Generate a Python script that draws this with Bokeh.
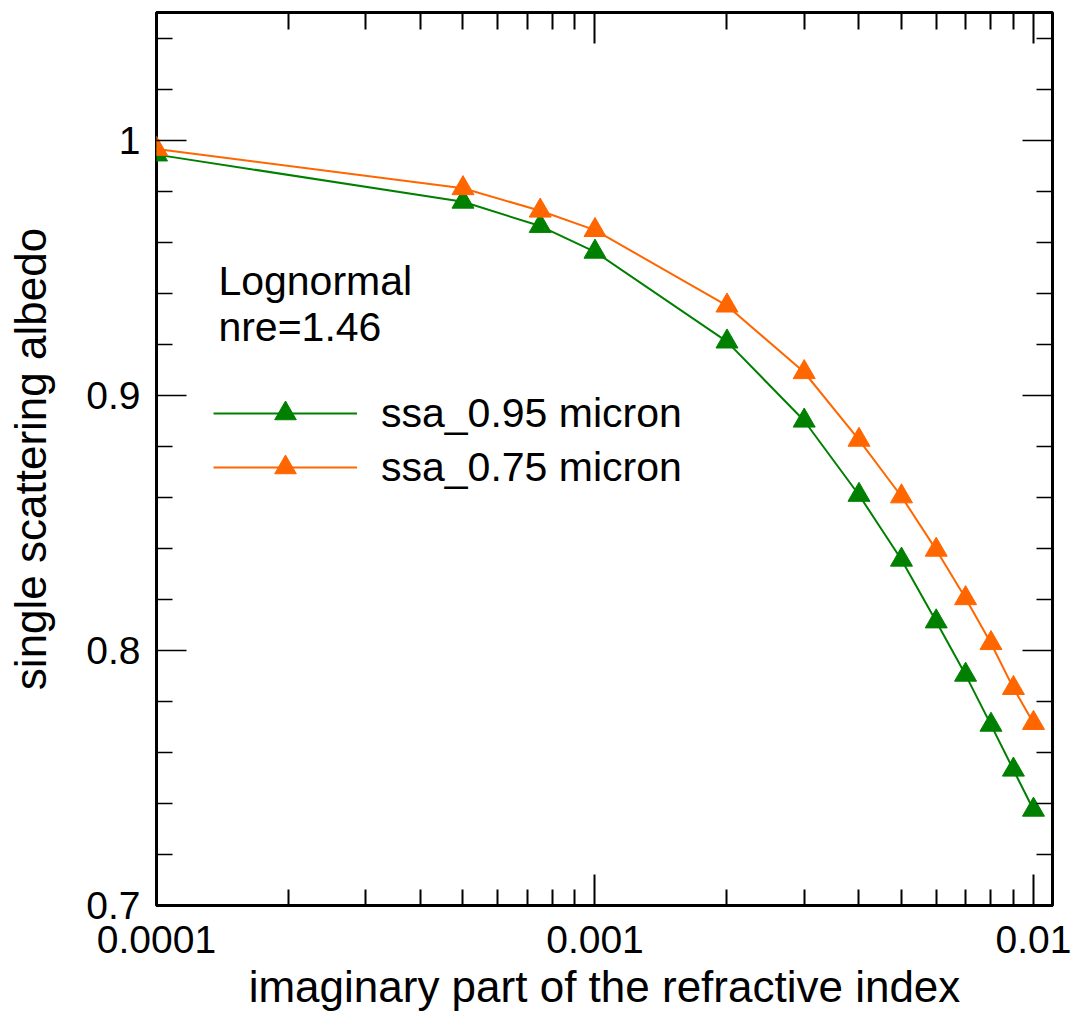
from bokeh.plotting import figure
from bokeh.models import (Range1d, FixedTicker, LogAxis, LinearAxis, CustomJSTickFormatter,
                          Legend, LegendItem, Label)
from bokeh.embed import file_html
from bokeh.resources import INLINE

# ---- data ----
k_imag = [0.0001, 0.0005, 0.00075, 0.001, 0.002, 0.003, 0.004, 0.005, 0.006, 0.007, 0.008, 0.009, 0.01]
ssa_095 = [0.9943, 0.9758, 0.9663, 0.9562, 0.9210, 0.8900, 0.8609, 0.8355, 0.8113, 0.7904, 0.7708, 0.7532, 0.7375]
ssa_075 = [0.9965, 0.9811, 0.9723, 0.9647, 0.9351, 0.9090, 0.8825, 0.8603, 0.8394, 0.8204, 0.8028, 0.7852, 0.7715]
series_names = ["ssa_0.95 micron", "ssa_0.75 micron"]
x_major = [0.0001, 0.001, 0.01]
x_minor = [0.0002, 0.0003, 0.0004, 0.0005, 0.0006, 0.0007, 0.0008, 0.0009,
           0.002, 0.003, 0.004, 0.005, 0.006, 0.007, 0.008, 0.009]
y_major = [0.7, 0.8, 0.9, 1.0]
y_minor = [0.72, 0.74, 0.76, 0.78, 0.82, 0.84, 0.86, 0.88, 0.92, 0.94, 0.96, 0.98, 1.02, 1.04]
note_lines = ["Lognormal", "nre=1.46"]

FONT = "Liberation Sans"
GREEN = "#008000"
ORANGE = "#FF6600"

p = figure(width=1072, height=1018, x_axis_type="log",
           x_range=Range1d(0.0001, 0.01105), y_range=Range1d(0.7, 1.05),
           output_backend="svg", toolbar_location=None,
           min_border_left=156, min_border_right=20, min_border_top=12, min_border_bottom=113)
p.grid.visible = False
p.background_fill_color = "white"
p.border_fill_color = "white"
p.outline_line_color = "black"
p.outline_line_width = 3
p.outline_line_alpha = 1.0

xt = FixedTicker(ticks=x_major, minor_ticks=x_minor)
yt = FixedTicker(ticks=y_major, minor_ticks=y_minor)
fmt = CustomJSTickFormatter(code="return tick.toString()")
blank = CustomJSTickFormatter(code="return ''")


def style(ax, ticker, formatter, tw, major_in, minor_in, labels=True):
    ax.ticker = ticker
    ax.formatter = formatter
    ax.axis_line_color = None
    ax.major_tick_in = major_in
    ax.major_tick_out = 0
    ax.minor_tick_in = minor_in
    ax.minor_tick_out = 0
    ax.major_tick_line_color = "black"
    ax.minor_tick_line_color = "black"
    ax.major_tick_line_width = tw
    ax.minor_tick_line_width = tw
    if labels:
        ax.major_label_text_font = FONT
        ax.major_label_text_font_size = "39px"
        ax.major_label_text_color = "black"
        ax.axis_label_text_font = FONT
        ax.axis_label_text_font_size = "44px"
        ax.axis_label_text_font_style = "normal"
        ax.axis_label_text_color = "black"
    else:
        ax.major_label_text_font_size = "0px"
        ax.major_label_standoff = 0


xa = p.xaxis[0]
style(xa, xt, fmt, 2, 31, 16)
xa.major_label_standoff = 20
xa.axis_label = "imaginary part of the refractive index"
xa.axis_label_standoff = 6

ya = p.yaxis[0]
style(ya, yt, fmt, 1.5, 30, 16)
ya.major_label_standoff = 16
ya.axis_label = "single scattering albedo"
ya.axis_label_standoff = 28

top = LogAxis()
style(top, xt, blank, 2, 31, 17, labels=False)
p.add_layout(top, "above")
right = LinearAxis()
style(right, yt, blank, 1.5, 30, 16, labels=False)
p.add_layout(right, "right")

l1 = p.line(k_imag, ssa_095, line_color=GREEN, line_width=2)
m1 = p.scatter(k_imag, ssa_095, marker="triangle", size=22, fill_color=GREEN, line_color=GREEN)
l2 = p.line(k_imag, ssa_075, line_color=ORANGE, line_width=2)
m2 = p.scatter(k_imag, ssa_075, marker="triangle", size=22, fill_color=ORANGE, line_color=ORANGE)

legend = Legend(items=[LegendItem(label=series_names[0], renderers=[l1, m1]),
                       LegendItem(label=series_names[1], renderers=[l2, m2])],
                location=(57, 411), glyph_width=144, glyph_height=54, spacing=0,
                padding=0, margin=0, label_standoff=24, border_line_alpha=0,
                background_fill_alpha=0, label_text_font=FONT, label_text_font_size="41px",
                label_text_color="black", label_height=54)
p.add_layout(legend)

p.add_layout(Label(x=0.0001384, y=0.9448, text=note_lines[0], text_font=FONT,
                   text_font_size="41px", text_color="black", text_baseline="alphabetic"))
p.add_layout(Label(x=0.0001384, y=0.9268, text=note_lines[1], text_font=FONT,
                   text_font_size="41px", text_color="black", text_baseline="alphabetic"))

open("out.html", "w").write(file_html(p, INLINE))
